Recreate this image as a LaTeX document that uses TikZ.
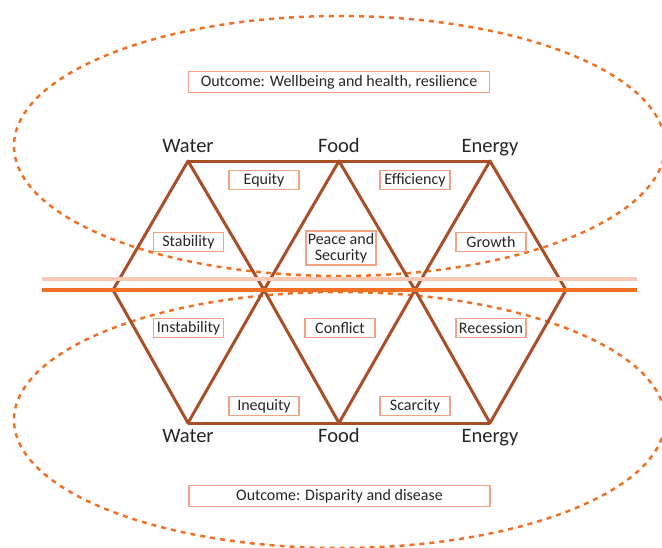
\documentclass[tikz,border=0pt]{standalone}
\usepackage{fontspec}
\setmainfont{Carlito}
\usepackage{xcolor}
\usepackage{tikz}
\usetikzlibrary{calc}
\usetikzlibrary{positioning}
\usetikzlibrary{shapes.geometric}
\definecolor{tri}{HTML}{A84F28}
\definecolor{orng}{HTML}{F07025}
\definecolor{peach}{HTML}{F9C9B3}
\definecolor{boxln}{HTML}{F4A283}
\definecolor{txt}{HTML}{262626}
\tikzstyle{hex} = [draw=tri, line width=3pt, line join=round]
\tikzstyle{lbl} = [rectangle, draw=boxln, line width=1.3pt, fill=white, text=txt, font=\fontsize{16}{16}\selectfont, minimum width=70pt, minimum height=19pt, inner sep=1pt, align=center]
\tikzstyle{res} = [draw=none, text=txt, font=\fontsize{20.5}{21}\selectfont, inner sep=0, text height=13pt, text depth=4pt]
\tikzstyle{zone} = [draw=orng, line width=2.5pt, dash pattern=on 5pt off 5pt]

\begin{document}
\begin{tikzpicture}[x=1pt, y=-1pt]
\useasboundingbox (0,0) rectangle (662,547);
\clip (0,0) rectangle (662,547);
% outcome zones
\node [ellipse, zone, minimum width=651pt, minimum height=260pt] (up) at (339.5,146) {};
\node [ellipse, zone, minimum width=651pt, minimum height=256pt] (down) at (339.5,420) {};
% vertices
\coordinate (W) at (188,161);
\coordinate (F) at (339,161);
\coordinate (E) at (490,161);
\coordinate (M1) at (113,290);
\coordinate (M2) at (264,290);
\coordinate (M3) at (415,290);
\coordinate (M4) at (566,290);
\coordinate (W2) at (188,423);
\coordinate (F2) at (339,423);
\coordinate (E2) at (490,423);
\coordinate (La) at (42,279);
\coordinate (Lb) at (637,279);
\coordinate (Ra) at (42,290);
\coordinate (Rb) at (637,290);
%\draw [hex] (M1) -- (M4);
\draw [hex] (W) -- (F) -- (E);
\draw [hex] (M1) -- (W) -- (M2) -- (F) -- (M3) -- (E) -- (M4);
\draw [hex] (W2) -- (F2) -- (E2);
\draw [hex] (M1) -- (W2) -- (M2) -- (F2) -- (M3) -- (E2) -- (M4);
\draw [draw=peach, line width=3.5pt] (La) -- (Lb);
\draw [draw=orng, line width=3.5pt] (Ra) -- (Rb);
% resources
\node [res] (water) at (188,148) {Water};
\node [res] (food) at (339,148) {Food};
\node [res] (energy) at (490,148) {Energy};
\node [res] (water2) at (188,438) {Water};
\node [res] (food2) at (339,438) {Food};
\node [res] (energy2) at (490,438) {Energy};
% states
\node [lbl, minimum width=301pt, minimum height=21pt] (good) at (339,82) {Outcome: Wellbeing and health, resilience};
\node [lbl] (equity) at (264,180) {Equity};
\node [lbl] (effic) at (415,180) {Efficiency};
\node [lbl] (stab) at (188.5,242) {Stability};
\node [lbl, minimum height=34pt] (peace) at (341,248) {Peace and\\Security};
\node [lbl] (growth) at (491,242) {Growth};
\node [lbl] (instab) at (188.5,328) {Instability};
\node [lbl] (confl) at (340,328) {Conflict};
\node [lbl] (reces) at (491,328) {Recession};
\node [lbl] (inequ) at (264,406) {Inequity};
\node [lbl] (scarc) at (415,406) {Scarcity};
\node [lbl, minimum width=301pt, minimum height=21pt] (bad) at (339.5,496) {Outcome: Disparity and disease};
\end{tikzpicture}
\end{document}
